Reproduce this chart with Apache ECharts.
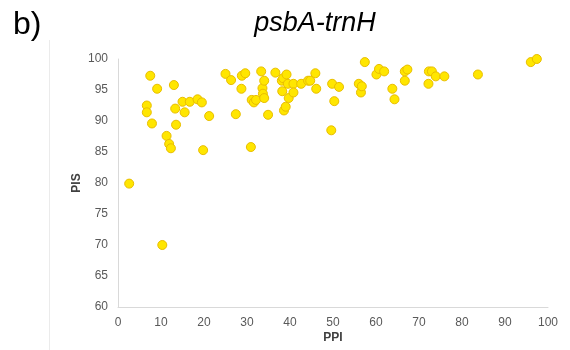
<!DOCTYPE html>
<html>
<head>
<meta charset="utf-8">
<script src="https://cdn.jsdelivr.net/npm/echarts@6/dist/echarts.min.js"></script>
<style>
  html, body { margin: 0; padding: 0; background: #fff; }
  #chart { width: 570px; height: 350px; }
</style>
</head>
<body>
<div id="chart"></div>
<script>
// PPI vs PIS for the psbA-trnH marker
const ppi = [2.6, 6.7, 6.7, 7.5, 7.9, 9.1, 10.3, 11.3, 11.9, 12.3, 13.0, 13.3, 13.5, 15.0, 15.5, 16.7, 18.5, 19.5, 19.8, 21.2,
  25.0, 26.3, 27.4, 28.7, 28.8, 29.6, 30.9, 31.1, 31.6, 32.1, 33.3, 33.6, 33.7, 34.0, 34.0, 34.9, 36.6, 38.1, 38.2, 38.4,
  38.6, 39.0, 39.2, 39.5, 39.7, 40.8, 40.8, 42.6, 44.2, 44.7, 45.9, 46.1, 49.6, 49.8, 50.3, 51.4, 56.0, 56.5, 56.7, 57.4,
  60.1, 60.7, 61.9, 63.8, 64.3, 66.7, 66.7, 67.3, 72.2, 72.3, 73.0, 73.9, 75.9, 83.7, 96.0, 97.4];
const pis = [79.9, 92.5, 91.4, 97.3, 89.6, 95.2, 70.0, 87.6, 86.3, 85.6, 95.8, 92.0, 89.4, 93.1, 91.4, 93.1, 93.5, 93.0, 85.3, 90.8,
  97.6, 96.6, 91.1, 95.2, 97.3, 97.7, 85.8, 93.4, 93.0, 93.4, 98.0, 95.3, 94.4, 96.5, 93.7, 91.0, 97.8, 96.5, 94.8, 96.9,
  91.7, 92.3, 97.5, 96.0, 93.7, 96.0, 94.6, 96.0, 96.5, 96.5, 97.7, 95.2, 88.5, 96.0, 93.2, 95.5, 96.0, 94.6, 95.6, 99.5,
  97.5, 98.4, 98.0, 95.2, 93.5, 96.5, 98.0, 98.3, 96.0, 98.0, 98.0, 97.2, 97.2, 97.5, 99.5, 100.0];

const xTicks = { min: 0, max: 100, step: 10 };
const yTicks = { min: 60, max: 100, step: 5 };

const points = ppi.map((v, i) => [v, pis[i]]);

const labelStyle = { color: '#595959', fontSize: 12, fontFamily: 'Liberation Sans, Arial, sans-serif' };
const axisLine = { show: true, lineStyle: { color: '#D9D9D9', width: 1 } };

const chart = echarts.init(document.getElementById('chart'), null, { renderer: 'canvas' });
chart.setOption({
  animation: false,
  backgroundColor: '#ffffff',
  title: [
    {
      text: 'psbA-trnH', left: 310, top: 5, textAlign: 'center',
      textStyle: { fontSize: 27, fontStyle: 'italic', fontWeight: 'normal', color: '#000', fontFamily: 'Liberation Sans, Arial, sans-serif' }
    },
    {
      text: 'b)', left: 8, top: 4,
      textStyle: { fontSize: 32, fontWeight: 'normal', color: '#000', fontFamily: 'Liberation Sans, Arial, sans-serif' }
    }
  ],
  graphic: [{
    type: 'line', shape: { x1: 49.5, y1: 40, x2: 49.5, y2: 350 },
    style: { stroke: '#EBEBEB', lineWidth: 1 }, silent: true
  }],
  grid: { left: 118, right: 22, top: 59, bottom: 43 },
  xAxis: {
    type: 'value', min: xTicks.min, max: xTicks.max, interval: xTicks.step,
    name: 'PPI', nameLocation: 'middle', nameGap: 25, nameMoveOverlap: false,
    nameTextStyle: { fontSize: 12, fontWeight: 'bold', color: '#404040', fontFamily: 'Liberation Sans, Arial, sans-serif' },
    axisLine: axisLine, axisTick: { show: false }, splitLine: { show: false },
    axisLabel: Object.assign({ margin: 10 }, labelStyle)
  },
  yAxis: {
    type: 'value', min: yTicks.min, max: yTicks.max, interval: yTicks.step,
    name: 'PIS', nameLocation: 'middle', nameGap: 35, nameMoveOverlap: false,
    nameTextStyle: { fontSize: 12, fontWeight: 'bold', color: '#404040', fontFamily: 'Liberation Sans, Arial, sans-serif' },
    axisLine: axisLine, axisTick: { show: false }, splitLine: { show: false },
    axisLabel: Object.assign({ margin: 10 }, labelStyle)
  },
  series: [{
    type: 'scatter',
    data: points,
    symbol: 'circle',
    symbolSize: 9,
    itemStyle: { color: '#FFE600', borderColor: '#E9BE00', borderWidth: 1, opacity: 1 }
  }]
});
</script>
</body>
</html>
